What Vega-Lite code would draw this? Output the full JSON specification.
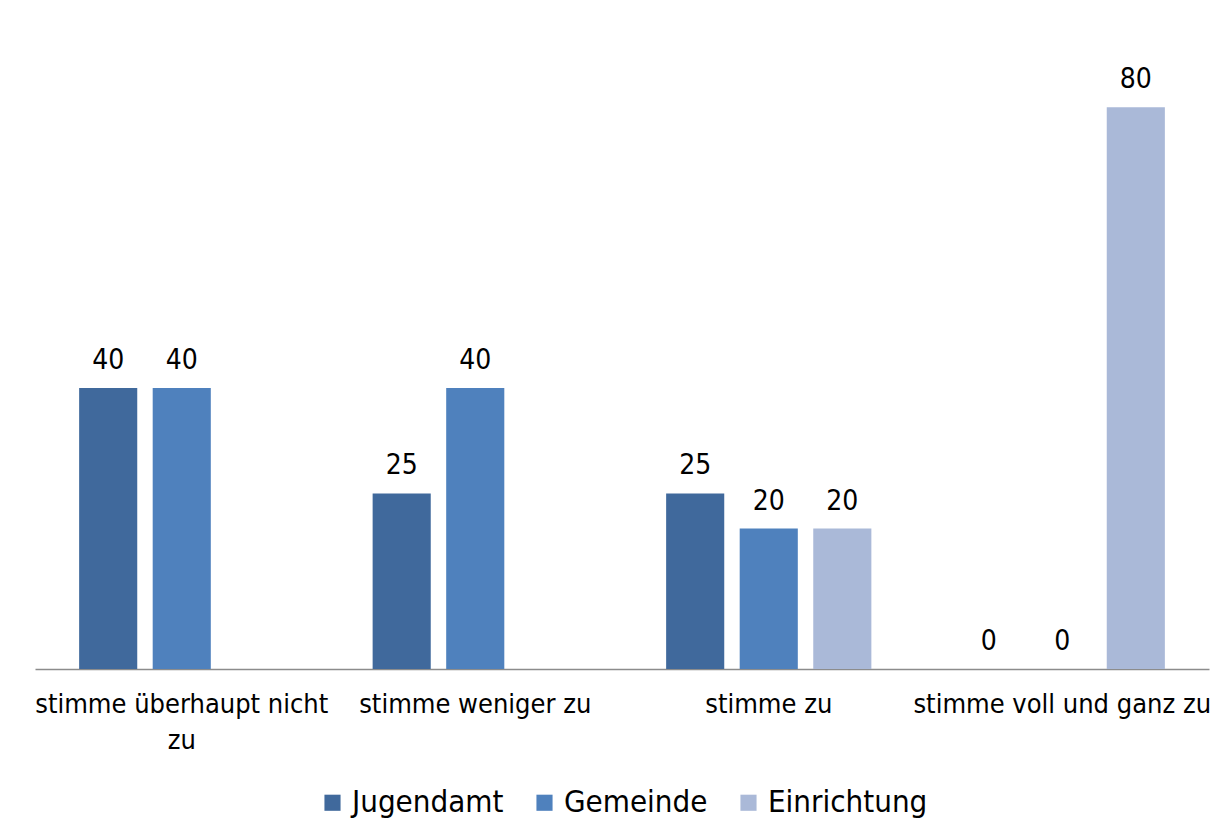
{
  "$schema": "https://vega.github.io/schema/vega-lite/v6.json",
  "width": 1174,
  "height": 632,
  "padding": {"left": 34, "top": 37, "right": 0, "bottom": 0},
  "autosize": {"type": "pad"},
  "background": "white",
  "config": {
    "view": {"stroke": null},
    "font": "DejaVu Sans Condensed, Roboto, sans-serif",
    "legend": {"layout": {"bottom": {"anchor": "middle"}}}
  },
  "data": {
    "values": [
      {"category": "stimme überhaupt nicht zu", "source": "Jugendamt", "value": 40},
      {"category": "stimme überhaupt nicht zu", "source": "Gemeinde", "value": 40},
      {"category": "stimme weniger zu", "source": "Jugendamt", "value": 25},
      {"category": "stimme weniger zu", "source": "Gemeinde", "value": 40},
      {"category": "stimme zu", "source": "Jugendamt", "value": 25},
      {"category": "stimme zu", "source": "Gemeinde", "value": 20},
      {"category": "stimme zu", "source": "Einrichtung", "value": 20},
      {"category": "stimme voll und ganz zu", "source": "Jugendamt", "value": 0},
      {"category": "stimme voll und ganz zu", "source": "Gemeinde", "value": 0},
      {"category": "stimme voll und ganz zu", "source": "Einrichtung", "value": 80}
    ]
  },
  "encoding": {
    "x": {
      "field": "category",
      "type": "nominal",
      "sort": ["stimme überhaupt nicht zu", "stimme weniger zu", "stimme zu", "stimme voll und ganz zu"],
      "scale": {"paddingInner": 0, "paddingOuter": 0},
      "axis": {
        "title": null,
        "labelAngle": 0,
        "ticks": false,
        "domainColor": "#8c8c8c",
        "domainWidth": 1.5,
        "labelFontSize": 27,
        "labelColor": "#000000",
        "labelPadding": 22,
        "labelLimit": 400,
        "labelLineHeight": 36,
        "labelExpr": "datum.value == 'stimme überhaupt nicht zu' ? ['stimme überhaupt nicht', 'zu'] : datum.label"
      }
    },
    "xOffset": {
      "field": "source",
      "type": "nominal",
      "sort": ["Jugendamt", "Gemeinde", "Einrichtung"],
      "scale": {"paddingInner": 0.21, "paddingOuter": 0.6}
    },
    "y": {
      "field": "value",
      "type": "quantitative",
      "scale": {"domain": [0, 90], "nice": false},
      "axis": null
    }
  },
  "layer": [
    {
      "mark": {"type": "bar"},
      "encoding": {
        "color": {
          "field": "source",
          "type": "nominal",
          "sort": ["Jugendamt", "Gemeinde", "Einrichtung"],
          "scale": {"domain": ["Jugendamt", "Gemeinde", "Einrichtung"], "range": ["#40699C", "#4F81BD", "#AAB9D8"]},
          "legend": {
            "title": null,
            "orient": "bottom",
            "direction": "horizontal",
            "symbolType": "square",
            "symbolSize": 260,
            "symbolStrokeWidth": 0,
            "symbolOpacity": 1,
            "labelFontSize": 31,
            "labelLimit": 300,
            "labelColor": "#000000",
            "columnPadding": 25,
            "labelOffset": 4,
            "offset": 34
          }
        }
      }
    },
    {
      "mark": {"type": "text", "baseline": "alphabetic", "dy": -19, "fontSize": 28, "color": "#000000"},
      "encoding": {"text": {"field": "value", "type": "quantitative"}}
    }
  ]
}
